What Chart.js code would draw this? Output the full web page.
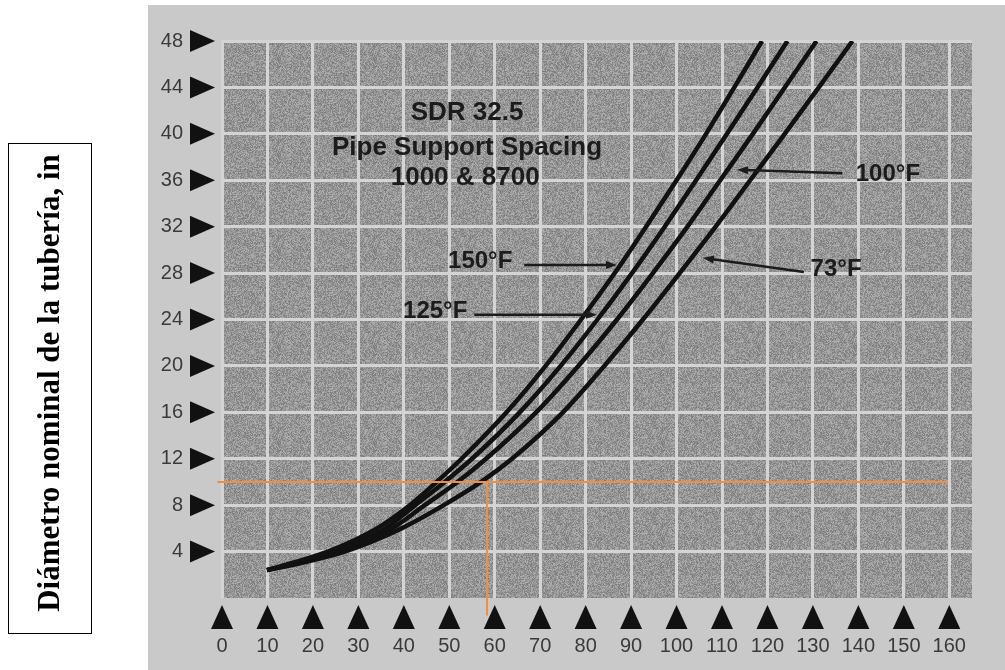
<!DOCTYPE html>
<html>
<head>
<meta charset="utf-8">
<script src="https://cdn.jsdelivr.net/npm/chart.js@4.4.0/dist/chart.umd.min.js"></script>
<style>
  html, body { margin: 0; padding: 0; background: #fff; }
  #wrap { position: relative; width: 1005px; height: 670px; }
</style>
</head>
<body>
<div id="wrap"><canvas id="pipeChart" width="1005" height="670"></canvas></div>
<script>
// nominal pipe diameter (in) and support spacing for each temperature
let diameters = [2.4, 3, 4, 6, 8, 10, 12, 16, 20, 24, 28, 32, 36, 40, 44, 48];
let spacing150 = [9.9, 15.2, 23.3, 34.1, 41.3, 47.2, 52.7, 62.6, 71.2, 79.0, 86.4, 93.3, 100.0, 106.5, 112.7, 118.8];
let spacing125 = [9.9, 15.8, 24.4, 35.9, 42.5, 49.0, 55.0, 65.5, 74.5, 82.6, 90.2, 97.4, 104.3, 111.1, 117.8, 124.4];
let spacing100 = [9.9, 16.5, 25.5, 37.4, 44.6, 51.8, 58.1, 69.1, 78.4, 86.9, 94.8, 102.4, 109.6, 116.8, 123.8, 130.8];
let spacing73 = [9.9, 17.2, 27.0, 39.5, 48.8, 57.0, 63.8, 75.0, 84.1, 92.6, 100.7, 108.6, 116.2, 123.8, 131.3, 138.7];

let xTicks = [0, 10, 20, 30, 40, 50, 60, 70, 80, 90, 100, 110, 120, 130, 140, 150, 160];
let yTicks = [4, 8, 12, 16, 20, 24, 28, 32, 36, 40, 44, 48];

// orange reading line
let readDiameter = 10;
let readSpacing = 58.3;

let titleLines = ['SDR 32.5', 'Pipe Support Spacing', '1000 & 8700'];
let titlePos = [[53.9, 41.8], [53.9, 38.8], [53.5, 36.2]];

let tempLabels = ['150°F', '125°F', '100°F', '73°F'];
let labelPos = [[56.8, 29.0], [46.9, 24.7], [146.5, 36.5], [135.1, 28.3]];
let arrowFrom = [[66.5, 28.7], [55.5, 24.4], [136.5, 36.6], [128.0, 28.1]];
let arrowTo = [[86.9, 28.7], [82.5, 24.4], [113.3, 36.9], [105.8, 29.3]];

let axisTitle = 'Diámetro nominal de la tubería, in';

function toPoints(xs) {
  return xs.map((x, i) => ({ x, y: diameters[i] }));
}

function curve(label, xs) {
  return {
    label,
    data: toPoints(xs),
    showLine: true,
    borderColor: '#111',
    borderWidth: 4.5,
    pointRadius: 0,
    cubicInterpolationMode: 'monotone',
    order: 1
  };
}

// speckled grey like the scanned paper
function makeSpeckle(ctx) {
  let c = document.createElement('canvas');
  c.width = 96; c.height = 96;
  let g = c.getContext('2d');
  let img = g.createImageData(96, 96);
  let s = 12345;
  for (let i = 0; i < 96 * 96; i++) {
    s = (s * 1103515245 + 12345) & 0x7fffffff;
    let v = 150 + ((s >> 8) % 56) - 28;
    img.data[i * 4] = v; img.data[i * 4 + 1] = v; img.data[i * 4 + 2] = v; img.data[i * 4 + 3] = 255;
  }
  g.putImageData(img, 0, 0);
  return ctx.createPattern(c, 'repeat');
}

let paperPlugin = {
  id: 'paper',
  beforeDraw(chart) {
    let ctx = chart.ctx;
    let a = chart.chartArea;
    ctx.save();
    ctx.fillStyle = '#ffffff';
    ctx.fillRect(0, 0, chart.width, chart.height);
    ctx.fillStyle = '#c9c9c9';
    ctx.fillRect(148, 5, chart.width - 148, chart.height - 5);
    ctx.fillStyle = makeSpeckle(ctx);
    ctx.fillRect(a.left, a.top, a.right - a.left, a.bottom - a.top);
    ctx.restore();
  },
  afterDraw(chart) {
    let ctx = chart.ctx;
    let xs = chart.scales.x;
    let ys = chart.scales.y;
    let a = chart.chartArea;
    ctx.save();

    // tick markers
    ctx.fillStyle = '#111';
    yTicks.forEach(t => {
      let py = ys.getPixelForValue(t);
      ctx.beginPath();
      ctx.moveTo(a.left - 32, py - 11);
      ctx.lineTo(a.left - 7, py);
      ctx.lineTo(a.left - 32, py + 11);
      ctx.closePath();
      ctx.fill();
    });
    xTicks.forEach(t => {
      let px = xs.getPixelForValue(t);
      ctx.beginPath();
      ctx.moveTo(px - 11, a.bottom + 31);
      ctx.lineTo(px, a.bottom + 7);
      ctx.lineTo(px + 11, a.bottom + 31);
      ctx.closePath();
      ctx.fill();
    });

    // chart heading
    ctx.fillStyle = '#1c1c1c';
    ctx.textAlign = 'center';
    ctx.textBaseline = 'middle';
    ctx.font = 'bold 26px "Liberation Sans", Arial, sans-serif';
    titleLines.forEach((t, i) => {
      ctx.fillText(t, xs.getPixelForValue(titlePos[i][0]), ys.getPixelForValue(titlePos[i][1]));
    });

    // temperature labels with arrows
    ctx.font = 'bold 24px "Liberation Sans", Arial, sans-serif';
    tempLabels.forEach((t, i) => {
      ctx.fillStyle = '#1c1c1c';
      ctx.fillText(t, xs.getPixelForValue(labelPos[i][0]), ys.getPixelForValue(labelPos[i][1]));
      let x1 = xs.getPixelForValue(arrowFrom[i][0]), y1 = ys.getPixelForValue(arrowFrom[i][1]);
      let x2 = xs.getPixelForValue(arrowTo[i][0]), y2 = ys.getPixelForValue(arrowTo[i][1]);
      let ang = Math.atan2(y2 - y1, x2 - x1);
      ctx.strokeStyle = '#1c1c1c';
      ctx.lineWidth = 2.5;
      ctx.beginPath();
      ctx.moveTo(x1, y1);
      ctx.lineTo(x2 - 8 * Math.cos(ang), y2 - 8 * Math.sin(ang));
      ctx.stroke();
      ctx.beginPath();
      ctx.moveTo(x2, y2);
      ctx.lineTo(x2 - 11 * Math.cos(ang) + 4 * Math.sin(ang), y2 - 11 * Math.sin(ang) - 4 * Math.cos(ang));
      ctx.lineTo(x2 - 11 * Math.cos(ang) - 4 * Math.sin(ang), y2 - 11 * Math.sin(ang) + 4 * Math.cos(ang));
      ctx.closePath();
      ctx.fill();
    });

    // boxed axis title on the white margin
    ctx.strokeStyle = '#000';
    ctx.lineWidth = 1;
    ctx.strokeRect(8.5, 143.5, 83, 490);
    ctx.translate(51, 383);
    ctx.rotate(-Math.PI / 2);
    ctx.fillStyle = '#000';
    ctx.font = 'bold 31px "Liberation Serif", "Times New Roman", serif';
    ctx.fillText(axisTitle, 0, 0);
    ctx.restore();
  }
};

let tickFont = { family: '"Liberation Sans", Arial, sans-serif', size: 20 };

new Chart(document.getElementById('pipeChart'), {
  type: 'scatter',
  data: {
    datasets: [
      {
        label: 'lectura',
        data: [{ x: -1, y: readDiameter }, { x: 159.7, y: readDiameter }],
        showLine: true,
        borderColor: '#f0903a',
        borderWidth: 2,
        pointRadius: 0,
        clip: false,
        order: 0
      },
      {
        label: 'lectura2',
        data: [{ x: readSpacing, y: readDiameter }, { x: readSpacing, y: -1.5 }],
        showLine: true,
        borderColor: '#f0903a',
        borderWidth: 2,
        pointRadius: 0,
        clip: false,
        order: 0
      },
      curve('150°F', spacing150),
      curve('125°F', spacing125),
      curve('100°F', spacing100),
      curve('73°F', spacing73)
    ]
  },
  options: {
    responsive: false,
    animation: false,
    layout: { padding: { top: 41, right: 33, left: 0, bottom: 0 } },
    plugins: {
      legend: { display: false },
      tooltip: { enabled: false }
    },
    scales: {
      x: {
        type: 'linear',
        min: 0,
        max: 165,
        afterFit(scale) {
          scale.height = 72;
          scale.paddingLeft = 0;
          scale.paddingRight = 0;
        },
        afterBuildTicks(scale) { scale.ticks = xTicks.map(v => ({ value: v })); },
        grid: { color: '#d4d4d4', lineWidth: 3, drawTicks: false },
        border: { display: false },
        ticks: { font: tickFont, color: '#3a3a3a', padding: 36, maxRotation: 0, autoSkip: false }
      },
      y: {
        type: 'linear',
        min: 0,
        max: 48,
        afterFit(scale) {
          scale.width = 222;
          scale.paddingTop = 0;
          scale.paddingBottom = 0;
        },
        afterBuildTicks(scale) { scale.ticks = yTicks.map(v => ({ value: v })); },
        grid: { color: '#d4d4d4', lineWidth: 3, drawTicks: false },
        border: { display: false },
        ticks: { font: tickFont, color: '#3a3a3a', padding: 39, autoSkip: false }
      }
    }
  },
  plugins: [paperPlugin]
});
</script>
</body>
</html>
